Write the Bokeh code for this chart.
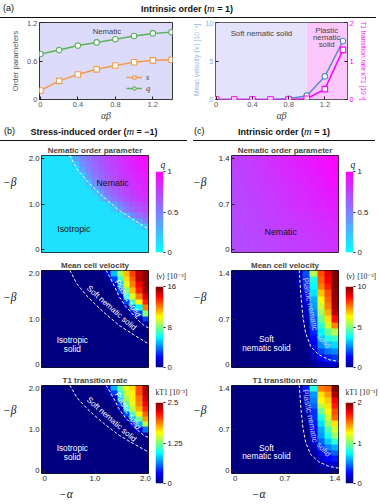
import numpy as np
from bokeh.plotting import figure
from bokeh.layouts import column, row
from bokeh.models import (Div, Range1d, LinearAxis, BoxAnnotation, Label,
                          LinearColorMapper, FixedTicker, Legend, LegendItem)
from bokeh.embed import file_html
from bokeh.resources import INLINE

# ---------------- panel (a) data ----------------
ab = [0.0, 0.2, 0.4, 0.6, 0.8, 1.0, 1.2, 1.4]
s_order = [0.14, 0.29, 0.39, 0.47, 0.53, 0.58, 0.61, 0.62]
q_order = [0.71, 0.77, 0.84, 0.89, 0.94, 0.99, 1.03, 1.05]
mean_vel = [0.0, 0.0, 0.0, 0.0, 0.1, 0.5, 3.0, 7.6]
t1_rate = [0.0, 0.0, 0.0, 0.0, 0.0, 0.02, 0.27, 1.29]
plastic_from = 1.0

# ---------------- panel (b) data: stress-induced order ----------------
alpha_b = [0.0, 0.125, 0.25, 0.375, 0.5, 0.625, 0.75, 0.875, 1.0,
           1.125, 1.25, 1.375, 1.5, 1.625, 1.75, 1.875, 2.0]
beta_b = list(alpha_b)
# nematic order parameter q, rows listed from beta=2.0 (top) down to beta=0
q_b_rows = [
    [.12, .12, .12, .12, .15, .36, .47, .55, .62, .67, .72, .76, .80, .84, .88, .92, .96],
    [.12, .12, .12, .12, .12, .24, .43, .52, .60, .66, .71, .75, .79, .83, .87, .91, .94],
    [.12, .12, .12, .12, .12, .14, .36, .48, .57, .64, .69, .74, .78, .82, .86, .89, .92],
    [.12, .12, .12, .12, .12, .12, .20, .42, .53, .60, .66, .71, .76, .80, .84, .87, .90],
    [.12, .12, .12, .12, .12, .12, .13, .30, .47, .56, .63, .69, .74, .78, .82, .85, .88],
    [.12, .12, .12, .12, .12, .12, .12, .16, .38, .51, .59, .66, .71, .76, .80, .83, .86],
    [.12, .12, .12, .12, .12, .12, .12, .12, .20, .42, .54, .62, .68, .73, .77, .81, .84],
    [.12, .12, .12, .12, .12, .12, .12, .12, .12, .26, .45, .56, .63, .69, .74, .78, .81],
    [.12, .12, .12, .12, .12, .12, .12, .12, .12, .12, .16, .37, .50, .59, .66, .71, .76],
    [.12, .12, .12, .12, .12, .12, .12, .12, .12, .12, .12, .22, .42, .53, .61, .67, .72],
    [.12, .12, .12, .12, .12, .12, .12, .12, .12, .12, .12, .12, .14, .30, .46, .56, .63],
    [.12, .12, .12, .12, .12, .12, .12, .12, .12, .12, .12, .12, .12, .12, .18, .37, .50],
    [.12, .12, .12, .12, .12, .12, .12, .12, .12, .12, .12, .12, .12, .12, .12, .16, .28],
    [.12, .12, .12, .12, .12, .12, .12, .12, .12, .12, .12, .12, .12, .12, .12, .12, .12],
    [.12, .12, .12, .12, .12, .12, .12, .12, .12, .12, .12, .12, .12, .12, .12, .12, .12],
    [.12, .12, .12, .12, .12, .12, .12, .12, .12, .12, .12, .12, .12, .12, .12, .12, .12],
    [.12, .12, .12, .12, .12, .12, .12, .12, .12, .12, .12, .12, .12, .12, .12, .12, .12],
]
# velocity / T1 maps: cells outside this block read as 0
block_alpha_b = [1.25, 1.375, 1.5, 1.625, 1.75, 1.875, 2.0]
block_beta_b = [2.0, 1.875, 1.75, 1.625, 1.5, 1.375, 1.25, 1.125, 1.0, 0.875]
vel_b_block = [
    [1.5, 5.0, 8.5, 11.0, 13.0, 15.0, 15.8],
    [0.3, 3.0, 7.0, 10.5, 12.5, 15.0, 15.8],
    [0.0, 1.0, 5.0, 9.5, 12.0, 14.0, 15.8],
    [0.0, 0.0, 3.0, 8.0, 11.0, 13.5, 15.5],
    [0.0, 0.0, 1.0, 6.0, 9.5, 12.0, 14.5],
    [0.0, 0.0, 0.2, 3.0, 7.0, 10.0, 13.5],
    [0.0, 0.0, 0.0, 0.8, 4.0, 6.0, 12.0],
    [0.0, 0.0, 0.0, 0.0, 1.5, 3.0, 8.0],
    [0.0, 0.0, 0.0, 0.0, 0.0, 0.5, 3.0],
    [0.0, 0.0, 0.0, 0.0, 0.0, 0.0, 0.5],
]
t1_b_block = [
    [0.20, 0.75, 1.20, 1.50, 1.65, 2.00, 2.40],
    [0.05, 0.45, 1.05, 1.45, 1.60, 2.00, 2.35],
    [0.00, 0.15, 0.80, 1.35, 1.60, 1.90, 2.30],
    [0.00, 0.00, 0.45, 1.20, 1.50, 1.85, 2.20],
    [0.00, 0.00, 0.15, 0.90, 1.40, 1.75, 2.10],
    [0.00, 0.00, 0.00, 0.50, 1.10, 1.55, 1.95],
    [0.00, 0.00, 0.00, 0.15, 0.70, 1.20, 1.80],
    [0.00, 0.00, 0.00, 0.00, 0.30, 0.75, 1.40],
    [0.00, 0.00, 0.00, 0.00, 0.05, 0.25, 0.60],
    [0.00, 0.00, 0.00, 0.00, 0.00, 0.00, 0.10],
]
nematic_edge_b_alpha = [0.50, 0.64, 0.86, 1.17, 1.48, 1.79, 2.07]
nematic_edge_b_beta = [2.07, 1.77, 1.48, 1.15, 0.86, 0.64, 0.45]
plastic_edge_b_alpha = [1.22, 1.29, 1.39, 1.48, 1.60, 1.73, 1.85, 1.97, 2.07]
plastic_edge_b_beta = [2.07, 1.93, 1.71, 1.49, 1.29, 1.13, 0.98, 0.86, 0.80]

# ---------------- panel (c) data: intrinsic order ----------------
alpha_c = [0.0, 0.1, 0.2, 0.3, 0.4, 0.5, 0.6, 0.7, 0.8, 0.9, 1.0, 1.1, 1.2, 1.3, 1.4]
beta_c = list(alpha_c)
q_c_rows = [  # beta = 1.4 (top) ... 0.0 (bottom)
    [.74, .75, .77, .78, .80, .82, .83, .85, .87, .88, .90, .92, .94, .96, .98],
    [.74, .75, .76, .78, .79, .81, .83, .84, .86, .88, .89, .91, .93, .95, .97],
    [.73, .74, .76, .77, .79, .80, .82, .84, .85, .87, .88, .90, .92, .94, .96],
    [.73, .74, .75, .77, .78, .80, .81, .83, .84, .86, .87, .89, .91, .93, .95],
    [.73, .74, .75, .76, .78, .79, .80, .82, .83, .85, .86, .88, .90, .92, .94],
    [.72, .73, .75, .76, .77, .78, .80, .81, .82, .84, .85, .87, .89, .91, .92],
    [.72, .73, .74, .75, .77, .78, .79, .80, .82, .83, .84, .86, .88, .89, .91],
    [.72, .73, .74, .75, .76, .77, .78, .80, .81, .82, .83, .85, .86, .88, .89],
    [.71, .72, .73, .74, .75, .76, .78, .79, .80, .81, .82, .84, .85, .86, .88],
    [.71, .72, .73, .74, .75, .76, .77, .78, .79, .80, .81, .82, .84, .85, .86],
    [.71, .72, .73, .73, .74, .75, .76, .77, .78, .79, .80, .81, .82, .83, .85],
    [.71, .71, .72, .73, .74, .75, .75, .76, .77, .78, .79, .80, .81, .82, .83],
    [.70, .71, .72, .73, .73, .74, .75, .76, .77, .77, .78, .79, .80, .81, .82],
    [.70, .71, .72, .72, .73, .74, .74, .75, .76, .77, .77, .78, .79, .80, .81],
    [.70, .71, .71, .72, .73, .73, .74, .75, .75, .76, .77, .77, .78, .79, .80],
]
block_alpha_c = [0.9, 1.0, 1.1, 1.2, 1.3, 1.4]
block_beta_c = [1.4, 1.3, 1.2, 1.1, 1.0, 0.9, 0.8, 0.7, 0.6, 0.5, 0.4, 0.3, 0.2, 0.1, 0.0]
vel_c_block = [
    [0.5, 2.0, 5.5, 8.0, 9.0, 10.0],
    [0.3, 1.8, 4.0, 7.8, 8.8, 10.0],
    [0.2, 1.5, 3.8, 7.5, 8.5, 10.0],
    [0.1, 1.2, 3.5, 6.8, 8.0, 9.8],
    [0.0, 1.0, 3.0, 6.3, 7.8, 9.7],
    [0.0, 0.8, 2.8, 5.8, 7.5, 9.6],
    [0.0, 0.6, 2.5, 5.3, 7.0, 9.3],
    [0.0, 0.4, 2.2, 4.8, 6.5, 8.6],
    [0.0, 0.3, 1.9, 4.2, 5.8, 7.5],
    [0.0, 0.2, 1.6, 3.7, 4.8, 5.5],
    [0.0, 0.1, 1.3, 3.2, 4.0, 4.3],
    [0.0, 0.0, 1.0, 2.6, 3.2, 3.4],
    [0.0, 0.0, 0.7, 1.9, 2.4, 2.6],
    [0.0, 0.0, 0.4, 1.2, 1.6, 1.8],
    [0.0, 0.0, 0.2, 0.5, 0.7, 0.8],
]
t1_c_block = [
    [0.05, 0.30, 0.80, 1.50, 1.55, 2.00],
    [0.03, 0.15, 0.55, 1.30, 1.45, 1.90],
    [0.02, 0.12, 0.50, 1.25, 1.35, 1.75],
    [0.00, 0.10, 0.45, 1.10, 1.30, 1.70],
    [0.00, 0.08, 0.35, 0.95, 1.25, 1.60],
    [0.00, 0.05, 0.35, 0.80, 1.15, 1.55],
    [0.00, 0.03, 0.30, 0.70, 1.05, 1.30],
    [0.00, 0.00, 0.25, 0.60, 0.90, 1.15],
    [0.00, 0.00, 0.20, 0.55, 0.80, 1.05],
    [0.00, 0.00, 0.15, 0.45, 0.65, 0.85],
    [0.00, 0.00, 0.10, 0.35, 0.50, 0.60],
    [0.00, 0.00, 0.05, 0.25, 0.35, 0.45],
    [0.00, 0.00, 0.02, 0.15, 0.25, 0.30],
    [0.00, 0.00, 0.00, 0.08, 0.15, 0.15],
    [0.00, 0.00, 0.00, 0.03, 0.05, 0.05],
]
plastic_edge_c_alpha = [0.90, 0.92, 0.95, 0.99, 1.06, 1.17, 1.32, 1.46]
plastic_edge_c_beta = [1.46, 1.10, 0.74, 0.48, 0.275, 0.15, 0.07, 0.04]

# ---------------- helpers ----------------
SANS = "Liberation Sans"
SERIF = "Liberation Serif"


def jet(n=256):
    out = []
    for i in range(n):
        t = i / (n - 1)
        r = min(max(1.5 - abs(4 * t - 3), 0), 1)
        g = min(max(1.5 - abs(4 * t - 2), 0), 1)
        b = min(max(1.5 - abs(4 * t - 1), 0), 1)
        out.append("#%02x%02x%02x" % (round(r * 255), round(g * 255), round(b * 255)))
    return out


def cool(n=256):
    out = []
    for i in range(n):
        t = i / (n - 1)
        out.append("#%02x%02x%02x" % (round(t * 255), round((1 - t) * 255), 255))
    return out


def full_grid(rows_top_down):
    return np.array(rows_top_down[::-1], dtype=float)


def block_grid(alpha, beta, b_alpha, b_beta, block):
    g = np.zeros((len(beta), len(alpha)))
    for i, bv in enumerate(b_beta):
        for j, av in enumerate(b_alpha):
            g[beta.index(bv), alpha.index(av)] = block[i][j]
    return g


def style_axis(ax, ticks, labels, size="7.8px", color="#222", tick_in=3, tick_out=0):
    ax.ticker = FixedTicker(ticks=ticks)
    ax.major_label_overrides = {t: l for t, l in zip(ticks, labels)}
    ax.minor_tick_line_color = None
    ax.major_tick_in = tick_in
    ax.major_tick_out = tick_out
    ax.major_tick_line_color = "#222"
    ax.axis_line_color = None
    ax.major_label_text_font = SANS
    ax.major_label_text_color = color
    ax.major_label_standoff = 2
    ax.major_label_text_font_size = size


def symbol_axis(p, where, pos, text):
    """An extra axis holding a single math symbol (-alpha / -beta) as its only label."""
    ax = LinearAxis()
    ax.ticker = FixedTicker(ticks=[pos])
    ax.major_label_overrides = {pos: text}
    ax.major_tick_line_color = None
    ax.minor_tick_line_color = None
    ax.axis_line_color = None
    ax.major_label_text_font = SERIF
    ax.major_label_text_font_style = "italic"
    ax.major_label_text_font_size = "11.5px"
    ax.major_label_text_color = "#111"
    ax.major_label_standoff = 3 if where == "left" else -2
    p.add_layout(ax, where)


def make_fig(**kw):
    return figure(output_backend="svg", toolbar_location=None, frame_align=False, **kw)


# ---------------- headers ----------------
def header_html(parts):
    return ('<div style="position:relative;width:380px;height:20px;'
            'font-family:\'Liberation Sans\',sans-serif;color:#111;">' + "".join(parts) + "</div>")


def span(left, width, txt, align="left", bold=False, size=9.0):
    return ('<div style="position:absolute;top:2px;left:%dpx;width:%dpx;text-align:%s;'
            'font-size:%.1fpx;font-weight:%s;white-space:nowrap;line-height:13px;">%s</div>'
            % (left, width, align, size, "bold" if bold else "normal", txt))


def hline(x0, x1, y=17):
    return ('<div style="position:absolute;left:%dpx;top:%dpx;width:%dpx;height:0;'
            'border-top:1px solid #111;"></div>' % (x0, y, x1 - x0))


M = '<i style="font-family:\'Liberation Serif\',serif;font-weight:normal;font-size:10.5px;">m</i>'

head_a = Div(text=header_html([
    span(3, 30, "(a)"),
    span(0, 374, "Intrinsic order (%s = 1)" % M, align="center", bold=True),
    hline(0, 376)]), width=380, height=20, margin=0)

head_bc = Div(text=header_html([
    span(4, 30, "(b)"),
    span(0, 188, "Stress-induced order (%s = &minus;1)" % M, align="center", bold=True),
    hline(0, 187),
    span(194, 30, "(c)"),
    span(193, 182, "Intrinsic order (%s = 1)" % M, align="center", bold=True),
    hline(193, 375)]), width=380, height=20, margin=0)

# ---------------- panel (a) left ----------------
pa1 = make_fig(width=190, height=103, x_range=Range1d(-0.01, 1.41), y_range=Range1d(0, 1.2),
               min_border_left=39, min_border_right=18, min_border_top=2, min_border_bottom=18,
               background_fill_color="#dcdcfa")
pa1.grid.visible = False
pa1.outline_line_color = "#333"
style_axis(pa1.xaxis[0], [0, 0.4, 0.8, 1.2], ["0", "0.4", "0.8", "1.2"], size="7.5px", color="#555")
style_axis(pa1.yaxis[0], [0, 0.6, 1.2], ["0", "0.6", "1.2"], size="7.5px", color="#555")
pa1.xaxis.axis_label = "αβ"
pa1.xaxis.axis_label_text_font = SERIF
pa1.xaxis.axis_label_text_font_style = "italic"
pa1.xaxis.axis_label_text_font_size = "10px"
pa1.xaxis.axis_label_standoff = 0
pa1.yaxis.axis_label = "Order parameters"
pa1.yaxis.axis_label_text_font = SANS
pa1.yaxis.axis_label_text_font_style = "normal"
pa1.yaxis.axis_label_text_font_size = "7.7px"
pa1.yaxis.axis_label_text_color = "#555"
pa1.yaxis.axis_label_standoff = 4

ORANGE = "#f39a4a"
GREEN = "#5cb35c"
l_s = pa1.line(ab, s_order, line_color=ORANGE, line_width=1.5)
m_s = pa1.scatter(ab, s_order, marker="square", size=5.5, line_color=ORANGE, fill_color="white", line_width=1.1)
l_q = pa1.line(ab, q_order, line_color=GREEN, line_width=1.5)
m_q = pa1.scatter(ab, q_order, marker="circle", size=5.5, line_color=GREEN, fill_color="white", line_width=1.1)
leg = Legend(items=[LegendItem(label="s", renderers=[l_s, m_s]),
                    LegendItem(label="q", renderers=[l_q, m_q])],
             location="bottom_right", background_fill_alpha=0, border_line_alpha=0,
             label_text_font=SERIF, label_text_font_style="italic", label_text_font_size="8.5px",
             glyph_width=16, glyph_height=8, spacing=1, padding=2, margin=4, label_standoff=4,
             label_height=8)
pa1.add_layout(leg)
pa1.add_layout(Label(x=0.71, y=1.06, text="Nematic", text_font=SANS, text_font_size="7.8px",
                     text_color="#444", text_align="center", text_baseline="middle"))

# ---------------- panel (a) right ----------------
VBLUE = "#5b8bc8"
VLABEL = "#8db4e2"
MAG = "#ff00ff"
pa2 = make_fig(width=190, height=103, x_range=Range1d(-0.007, 1.45), y_range=Range1d(0, 10),
               min_border_left=20, min_border_right=33, min_border_top=2, min_border_bottom=18)
pa2.grid.visible = False
pa2.outline_line_color = "#333"
pa2.extra_y_ranges = {"t1": Range1d(0, 2)}
pa2.add_layout(BoxAnnotation(right=plastic_from, fill_color="#e4e2fc", fill_alpha=1,
                             line_alpha=0, level="underlay"))
pa2.add_layout(BoxAnnotation(left=plastic_from, fill_color="#fcc8fc", fill_alpha=1,
                             line_alpha=0, level="underlay"))
style_axis(pa2.xaxis[0], [0, 0.4, 0.8, 1.2], ["0", "0.4", "0.8", "1.2"], size="7.5px", color="#555")
style_axis(pa2.yaxis[0], [0, 5, 10], ["0", "5", "10"], size="7.5px", color=VLABEL)
pa2.xaxis.axis_label = "αβ"
pa2.xaxis.axis_label_text_font = SERIF
pa2.xaxis.axis_label_text_font_style = "italic"
pa2.xaxis.axis_label_text_font_size = "10px"
pa2.xaxis.axis_label_standoff = 0
pa2.yaxis.axis_label = "Mean velocity ⟨v⟩ [10⁻³]"
pa2.yaxis.axis_label_text_font = SANS
pa2.yaxis.axis_label_text_font_style = "normal"
pa2.yaxis.axis_label_text_font_size = "6.8px"
pa2.yaxis.axis_label_text_color = VLABEL
pa2.yaxis.axis_label_standoff = 2
rax = LinearAxis(y_range_name="t1")
style_axis(rax, [0, 1, 2], ["0", "1", "2"], size="7.5px", color=MAG)
rax.axis_label = "T1 transition rate kT1 [10⁻³]"
rax.axis_label_text_font = SANS
rax.axis_label_text_font_style = "normal"
rax.axis_label_text_font_size = "6.6px"
rax.axis_label_text_color = MAG
rax.axis_label_standoff = 3
pa2.add_layout(rax, "right")

pa2.line(ab, mean_vel, line_color=VBLUE, line_width=1.5)
pa2.scatter(ab, mean_vel, marker="circle", size=5.5, line_color=VBLUE, fill_color="white", line_width=1.1)
pa2.line(ab, t1_rate, line_color=MAG, line_width=1.5, y_range_name="t1")
pa2.scatter(ab, t1_rate, marker="square", size=5.5, line_color=MAG, fill_color="white",
            line_width=1.1, y_range_name="t1")
pa2.add_layout(Label(x=0.5, y=8.6, text="Soft nematic solid", text_font=SANS, text_font_size="7.8px",
                     text_color="#444", text_align="center", text_baseline="middle"))
for yy, tt in zip([8.9, 8.0, 7.1], ["Plastic", "nematic", "solid"]):
    pa2.add_layout(Label(x=1.22, y=yy, text=tt, text_font=SANS, text_font_size="7.8px",
                         text_color="#444", text_align="center", text_baseline="middle"))

# ---------------- heat maps ----------------
JET = jet()
COOL = cool()
BAR_LEN = 81


def heat(title, grid, axis_vals, ticks, tick_lbls, palette, high, cb_ticks, cb_lbls, cb_title,
         cb_title_style, height, top, bottom, bottom_row, beta_sym_pos, alpha_sym_pos):
    half = (axis_vals[1] - axis_vals[0]) / 2
    lo, hi = axis_vals[0] - half, axis_vals[-1] + half
    p = make_fig(width=155, height=height, x_range=Range1d(lo, hi), y_range=Range1d(lo, hi),
                 min_border_left=34, min_border_right=7, min_border_top=top, min_border_bottom=bottom)
    p.grid.visible = False
    p.outline_line_color = "#111"
    mapper = LinearColorMapper(palette=palette, low=0, high=high)
    p.image(image=[grid], x=lo, y=lo, dw=hi - lo, dh=hi - lo, color_mapper=mapper)
    style_axis(p.yaxis[0], ticks, tick_lbls)
    if bottom_row:
        style_axis(p.xaxis[0], ticks, tick_lbls)
        symbol_axis(p, "below", alpha_sym_pos, "−α")
    else:
        p.xaxis.visible = False
    symbol_axis(p, "left", beta_sym_pos, "−β")
    p.title.text = title
    p.title.align = "center"
    p.title.text_font = SANS
    p.title.text_font_style = "bold"
    p.title.text_font_size = "8px"
    p.title.standoff = 1
    p.title.offset = 0

    # colour scale drawn as its own small plot: the bar is the frame, ticks on the right
    c = make_fig(width=35, height=height, x_range=Range1d(0, 1), y_range=Range1d(0, high),
                 min_border_left=0, min_border_right=27, min_border_top=height - bottom - BAR_LEN,
                 min_border_bottom=bottom, y_axis_location="right")
    c.grid.visible = False
    c.outline_line_color = None
    c.xaxis.visible = False
    c.image(image=[np.linspace(0, high, 256).reshape(-1, 1)], x=0, y=0, dw=1, dh=high,
            color_mapper=mapper)
    style_axis(c.yaxis[0], cb_ticks, cb_lbls, size="7.8px", tick_in=0, tick_out=2)
    c.title.text = cb_title
    c.title.align = "left"
    c.title.text_font = SERIF
    c.title.text_font_style = cb_title_style
    if cb_title_style == "italic":
        c.title.text_font_size = "9.5px"
        c.title.standoff = 3
        c.title.offset = 5
    else:
        c.title.text_font_size = "7.6px"
        c.title.standoff = 11
        c.title.offset = 0
    c.title.text_color = "#222"
    return p, c


def lbl(p, x, y, text, color="white", size="8.3px", angle=0.0):
    p.add_layout(Label(x=x, y=y, text=text, text_color=color, text_font=SANS,
                       text_font_size=size, text_align="center", text_baseline="middle", angle=angle))


def dashed(p, xs, ys, color="white"):
    p.line(xs, ys, line_color=color, line_width=1, line_dash="3 2")


g_qb = full_grid(q_b_rows)
g_vb = block_grid(alpha_b, beta_b, block_alpha_b, block_beta_b, vel_b_block)
g_tb = block_grid(alpha_b, beta_b, block_alpha_b, block_beta_b, t1_b_block)
g_qc = full_grid(q_c_rows)
g_vc = block_grid(alpha_c, beta_c, block_alpha_c, block_beta_c, vel_c_block)
g_tc = block_grid(alpha_c, beta_c, block_alpha_c, block_beta_c, t1_c_block)

tb = [0, 1, 2]
tbl = ["0", "1.0", "2.0"]
tc = [0, 0.7, 1.4]
tcl = ["0", "0.7", "1.4"]
VT = "⟨v⟩ [10⁻³]"
KT = "kT1 [10⁻³]"

qb, qb_c = heat("Nematic order parameter", g_qb, alpha_b, tb, tbl, COOL, 1, [0, 0.5, 1], ["0", "0.5", "1"],
                "q", "italic", 115, 10, 6, False, 1.48, 0.42)
vb, vb_c = heat("Mean cell velocity", g_vb, alpha_b, tb, tbl, JET, 16, [0, 8, 16], ["0", "8", "16"],
                VT, "normal", 115, 10, 6, False, 1.48, 0.42)
tbp, tb_c = heat("T1 transition rate", g_tb, alpha_b, tb, tbl, JET, 2.5, [0, 1.25, 2.5], ["0", "1.25", "2.5"],
                 KT, "normal", 129, 10, 19, True, 1.48, 0.42)
qc, qc_c = heat("Nematic order parameter", g_qc, alpha_c, tc, tcl, COOL, 1, [0, 0.5, 1], ["0", "0.5", "1"],
                "q", "italic", 115, 10, 6, False, 1.04, 0.33)
vc, vc_c = heat("Mean cell velocity", g_vc, alpha_c, tc, tcl, JET, 10, [0, 5, 10], ["0", "5", "10"],
                VT, "normal", 115, 10, 6, False, 1.04, 0.33)
tcp, tc_c = heat("T1 transition rate", g_tc, alpha_c, tc, tcl, JET, 2, [0, 1, 2], ["0", "1", "2"],
                 KT, "normal", 129, 10, 19, True, 1.04, 0.33)

# boundaries
dashed(qb, nematic_edge_b_alpha, nematic_edge_b_beta)
for p in (vb, tbp):
    dashed(p, nematic_edge_b_alpha, nematic_edge_b_beta)
    dashed(p, plastic_edge_b_alpha, plastic_edge_b_beta)
for p in (vc, tcp):
    dashed(p, plastic_edge_c_alpha, plastic_edge_c_beta)

# region labels
lbl(qb, 1.35, 1.45, "Nematic", color="#111", size="8.8px")
lbl(qb, 0.58, 0.45, "Isotropic", color="#111", size="8.8px")
for p in (vb, tbp):
    lbl(p, 0.55, 0.55, "Isotropic")
    lbl(p, 0.55, 0.34, "solid")
    lbl(p, 1.33, 1.24, "Soft nematic solid", size="8px", angle=-0.72)
    lbl(p, 1.65, 1.45, "Plastic solid", size="8px", angle=-1.02)
lbl(qc, 0.64, 0.26, "Nematic", color="#111", size="8.8px")
for p in (vc, tcp):
    lbl(p, 0.44, 0.39, "Soft")
    lbl(p, 0.44, 0.25, "nematic solid")
    lbl(p, 1.05, 0.93, "Plastic nematic", color="#c8c8f4", size="8px", angle=-1.38)
    lbl(p, 1.24, 0.36, "solid", color="#c8c8f4", size="8px", angle=-0.85)

layout = column(head_a, row(pa1, pa2), head_bc,
                row(qb, qb_c, qc, qc_c), row(vb, vb_c, vc, vc_c), row(tbp, tb_c, tcp, tc_c))

with open("out.html", "w") as f:
    f.write(file_html(layout, INLINE))
